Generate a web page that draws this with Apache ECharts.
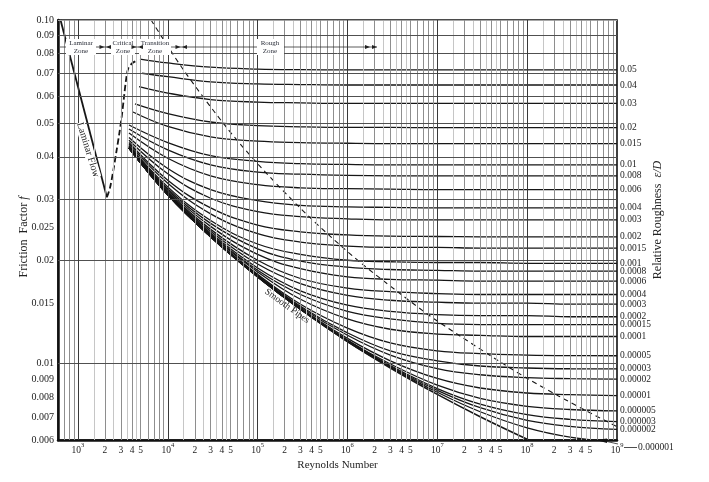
<!DOCTYPE html>
<html><head><meta charset="utf-8">
<script src="https://cdn.jsdelivr.net/npm/echarts@6/dist/echarts.min.js"></script>
<style>html,body{margin:0;padding:0;background:#fff}#c{width:709px;height:482px}</style>
</head><body><div id="c"></div>
<script>
// ---------------- data ----------------
const reynolds = [4000, 1e4, 3e4, 1e5, 3e5, 1e6, 3e6, 1e7, 3e7, 1e8, 3e8, 1e9];
const roughnessLabels = ['0.05','0.04','0.03','0.02','0.015','0.01','0.008','0.006','0.004','0.003',
  '0.002','0.0015','0.001','0.0008','0.0006','0.0004','0.0003','0.0002','0.00015','0.0001',
  '0.00005','0.00003','0.00002','0.00001','0.000005','0.000003','0.000002','0.000001'];
const curveStartRe = [4900,5170,4786,4315,4100,3700,3700,3700,3700,3700,3700,3700,3700,3700,
  3700,3700,3700,3700,3700,3700,3700,3700,3700,3700,3700,3700,3700,3700];
const friction = [
  [0.077, 0.0750, 0.0729, 0.0720, 0.0717, 0.0716, 0.0716, 0.0716, 0.0716, 0.0716, 0.0716, 0.0716],
  [0.070, 0.0684, 0.0661, 0.0652, 0.0649, 0.0647, 0.0647, 0.0647, 0.0647, 0.0647, 0.0647, 0.0647],
  [0.064, 0.0613, 0.0587, 0.0577, 0.0574, 0.0572, 0.0572, 0.0572, 0.0572, 0.0572, 0.0572, 0.0572],
  [0.057, 0.0534, 0.0505, 0.0493, 0.0489, 0.0487, 0.0487, 0.0486, 0.0486, 0.0486, 0.0486, 0.0486],
  [0.054, 0.0490, 0.0457, 0.0444, 0.0440, 0.0438, 0.0437, 0.0437, 0.0437, 0.0437, 0.0437, 0.0437],
  [0.0495, 0.0440, 0.0403, 0.0388, 0.0382, 0.0380, 0.0379, 0.0379, 0.0379, 0.0379, 0.0379, 0.0379],
  [0.0482, 0.0419, 0.0379, 0.0361, 0.0356, 0.0353, 0.0352, 0.0352, 0.0352, 0.0352, 0.0352, 0.0352],
  [0.0469, 0.0396, 0.0352, 0.0332, 0.0325, 0.0323, 0.0322, 0.0321, 0.0321, 0.0321, 0.0321, 0.0321],
  [0.0455, 0.0370, 0.0321, 0.0298, 0.0289, 0.0286, 0.0285, 0.0284, 0.0284, 0.0284, 0.0284, 0.0284],
  [0.0447, 0.0357, 0.0303, 0.0277, 0.0268, 0.0264, 0.0262, 0.0262, 0.0262, 0.0262, 0.0262, 0.0262],
  [0.0440, 0.0342, 0.0284, 0.0253, 0.0242, 0.0237, 0.0235, 0.02345, 0.0234, 0.0234, 0.0234, 0.0234],
  [0.0436, 0.0335, 0.0273, 0.0239, 0.0226, 0.0220, 0.0218, 0.0218, 0.0217, 0.0217, 0.0217, 0.0217],
  [0.0432, 0.0327, 0.0261, 0.0223, 0.0208, 0.0200, 0.0198, 0.0197, 0.0197, 0.0196, 0.0196, 0.0196],
  [0.0430, 0.0323, 0.0256, 0.0216, 0.0199, 0.0191, 0.0188, 0.0187, 0.0186, 0.0186, 0.0186, 0.0186],
  [0.0428, 0.0320, 0.0251, 0.0208, 0.0189, 0.0179, 0.0176, 0.0175, 0.0174, 0.0174, 0.0174, 0.0174],
  [0.0427, 0.0317, 0.0246, 0.0200, 0.0177, 0.0166, 0.0162, 0.0160, 0.0159, 0.0159, 0.0159, 0.0159],
  [0.0426, 0.0315, 0.0243, 0.0195, 0.0171, 0.0158, 0.0153, 0.0151, 0.0150, 0.0150, 0.0149, 0.0149],
  [0.0425, 0.0313, 0.0240, 0.0190, 0.0163, 0.0148, 0.0142, 0.0139, 0.0138, 0.0138, 0.0137, 0.0137],
  [0.0425, 0.0312, 0.0238, 0.0187, 0.0159, 0.0142, 0.0135, 0.0131, 0.0130, 0.0130, 0.0130, 0.0130],
  [0.0425, 0.0312, 0.0237, 0.0185, 0.0154, 0.0135, 0.0126, 0.0122, 0.0121, 0.0120, 0.0120, 0.0120],
  [0.0424, 0.0311, 0.0235, 0.0182, 0.0149, 0.0127, 0.0115, 0.0109, 0.0107, 0.0106, 0.01056, 0.01055],
  [0.0424, 0.0310, 0.0235, 0.0181, 0.0147, 0.0123, 0.0109, 0.0102, 0.00985, 0.00972, 0.00967, 0.00966],
  [0.0424, 0.0310, 0.0234, 0.0180, 0.0146, 0.0121, 0.0106, 0.00968, 0.00929, 0.00911, 0.00905, 0.00902],
  [0.0424, 0.0310, 0.0234, 0.0179, 0.0145, 0.01185, 0.0102, 0.00906, 0.00850, 0.00822, 0.00813, 0.00808],
  [0.0424, 0.0310, 0.0234, 0.0179, 0.0144, 0.0117, 0.00998, 0.00866, 0.00793, 0.00752, 0.00736, 0.00729],
  [0.0424, 0.0310, 0.0234, 0.0179, 0.0144, 0.0117, 0.00988, 0.00847, 0.00763, 0.00711, 0.00689, 0.00679],
  [0.0424, 0.0310, 0.0234, 0.0179, 0.0144, 0.0117, 0.00983, 0.00837, 0.00745, 0.00684, 0.00657, 0.00644],
  [0.0424, 0.0310, 0.0234, 0.0179, 0.0144, 0.0116, 0.00978, 0.00826, 0.00725, 0.00651, 0.00612, 0.00592]
];
const smoothPipeRe = [3700, 1e4, 3e4, 1e5, 3e5, 1e6, 3e6, 1e7, 3e7, 1e8, 3e8, 1e9];
const smoothPipeF = [0.0424, 0.0310, 0.0234, 0.0179, 0.0144, 0.0116, 0.00972, 0.00814, 0.00701, 0.00603, 0.00530, 0.00464];
const laminarRe = [640, 2100];
const laminarF = [0.1, 0.0305];
const criticalRe = [2100, 2275, 2480, 2700, 2890, 3070, 3260, 3430, 3640, 4080, 4600];
const criticalF = [0.0305, 0.0325, 0.0366, 0.0419, 0.0468, 0.0523, 0.0598, 0.0669, 0.0724, 0.0751, 0.0762];
const roughBoundaryRe = [6520, 14950, 45350, 102700, 296600, 653500, 1.427e6, 3.97e6, 8.53e6, 1.83e7, 4.97e7, 1.05e8, 2.23e8, 4.7e8, 9.9e8];
const roughBoundaryF = [0.1, 0.0716, 0.0486, 0.0379, 0.0284, 0.0234, 0.0196, 0.0159, 0.0137, 0.0120, 0.01014, 0.0090, 0.00806, 0.00726, 0.00657];
const xTickLabels = [1e3,2e3,3e3,4e3,5e3,1e4,2e4,3e4,4e4,5e4,1e5,2e5,3e5,4e5,5e5,1e6,2e6,3e6,4e6,5e6,
  1e7,2e7,3e7,4e7,5e7,1e8,2e8,3e8,4e8,5e8,1e9];
const yTickLabels = [0.006,0.007,0.008,0.009,0.01,0.015,0.02,0.025,0.03,0.04,0.05,0.06,0.07,0.08,0.09,0.1];
const yMinorGrid = [0.0065,0.0075,0.0085,0.0095,0.011,0.012,0.013,0.014,0.016,0.017,0.018,0.019,
  0.0225,0.0275,0.0325,0.035,0.0375,0.045,0.055,0.065,0.075,0.085,0.095];

// ---------------- chart ----------------
const SERIF = '"Liberation Serif","DejaVu Serif",serif';
const INK = '#161616';
const chart = echarts.init(document.getElementById('c'));

const gridMarks = [];
const vLight = [], vMed = [], vDark = [];
for (let n = 2; n <= 8; n++) {
  const d = Math.pow(10, n);
  [1.5, 2.5, 3.5, 4.5].forEach(k => { const v = k * d; if (v > 600 && v < 1e9) vLight.push(v); });
  [2, 3, 4, 5, 6, 7, 8, 9].forEach(k => { const v = k * d; if (v > 600 && v < 1e9) vMed.push(v); });
  if (n >= 3) vDark.push(d);
}
vLight.forEach(v => gridMarks.push({xAxis: v, lineStyle: {color: '#c6c6c6', width: 1, type: 'solid'}}));
yMinorGrid.forEach(v => gridMarks.push({yAxis: v, lineStyle: {color: '#a8a8a8', width: 1, type: 'solid'}}));
vMed.forEach(v => gridMarks.push({xAxis: v, lineStyle: {color: '#8e8e8e', width: 1, type: 'solid'}}));
yTickLabels.slice(1, -1).forEach(v => gridMarks.push({yAxis: v, lineStyle: {color: '#505050', width: 1, type: 'solid'}}));
vDark.forEach(v => gridMarks.push({xAxis: v, lineStyle: {color: '#3a3a3a', width: 1, type: 'solid'}}));

const series = [];
series.push({
  type: 'line', data: [[1e4, 0.05]], symbol: 'none', lineStyle: {opacity: 0}, silent: true, z: 1,
  markLine: {symbol: ['none', 'none'], silent: true, animation: false, label: {show: false},
    emphasis: {disabled: true}, data: gridMarks}
});
roughnessLabels.forEach((lab, i) => {
  series.push({
    type: 'line', name: lab, z: 3, symbol: 'none', smooth: 0.4, silent: true,
    data: friction[i].map((f, j) => [j === 0 ? curveStartRe[i] : reynolds[j], f]),
    lineStyle: {color: INK, width: 1.3},
    endLabel: {show: i < roughnessLabels.length - 1, formatter: lab, distance: 3,
      fontSize: 9.5, fontFamily: SERIF, color: '#222'}
  });
});
series.push({
  type: 'line', name: 'Smooth Pipes', z: 3, symbol: 'none', smooth: 0.4, silent: true,
  data: smoothPipeF.map((f, j) => [smoothPipeRe[j], f]), lineStyle: {color: INK, width: 1.5}
});
series.push({
  type: 'line', name: 'Laminar', z: 3, symbol: 'none', silent: true,
  data: laminarF.map((f, j) => [laminarRe[j], f]), lineStyle: {color: INK, width: 1.8}
});
series.push({
  type: 'line', name: 'Critical', z: 3, symbol: 'none', smooth: 0.3, silent: true,
  data: criticalF.map((f, j) => [criticalRe[j], f]), lineStyle: {color: INK, width: 1.8, type: [6, 3]}
});
series.push({
  type: 'line', name: 'RoughBoundary', z: 3, symbol: 'none', smooth: 0.3, silent: true,
  data: roughBoundaryF.map((f, j) => [roughBoundaryRe[j], f]), lineStyle: {color: INK, width: 1.1, type: [5, 4]}
});

function fmtX(v) {
  const e = Math.round(Math.log10(v) * 1000) / 1000;
  if (Number.isInteger(e)) return '{n|10}{s|' + e + '}';
  return '{n|' + Math.round(v / Math.pow(10, Math.floor(e))) + '}';
}
function fmtY(v) {
  const s = String(+v.toPrecision(3));
  return s === '0.1' ? '0.10' : s;
}

// annotations
const g = [];
const txt = (x, y, t, size, extra) => Object.assign({type: 'text', x: x, y: y, z: 20,
  style: {text: t, fontSize: size, fontFamily: SERIF, fill: '#2b2f3a', align: 'center', verticalAlign: 'middle'}}, extra || {});
const tri = (xTip, y, dir) => ({type: 'polygon', z: 21, shape: {points: [[xTip, y], [xTip - dir * 5, y - 2], [xTip - dir * 5, y + 2]]}, style: {fill: '#222'}});
g.push({type: 'line', z: 19, shape: {x1: 60, y1: 47, x2: 377, y2: 47}, style: {stroke: '#333', lineWidth: 0.8}});
[[81, 66, 30, 'Laminar'], [123, 111, 24, 'Critical'], [155, 139, 32, 'Transition'], [270, 257, 27, 'Rough']].forEach(b => {
  g.push({type: 'rect', z: 19, shape: {x: b[1], y: 39, width: b[2], height: 16}, style: {fill: '#fff'}});
  g.push(txt(b[0], 43.5, b[3], 7));
  g.push(txt(b[0], 51, 'Zone', 7));
});
g.push(tri(104.5, 47, 1), tri(106, 47, -1), tri(136.5, 47, 1), tri(138, 47, -1),
       tri(180.5, 47, 1), tri(182, 47, -1), tri(370, 47, 1), tri(377, 47, 1));
g.push(txt(24, 237, '', 12, {rotation: Math.PI / 2,
  style: {text: 'Friction  Factor {i|f}', fontSize: 12, fontFamily: SERIF, fill: '#222', align: 'center', verticalAlign: 'middle',
    rich: {i: {fontStyle: 'italic', fontSize: 12, fontFamily: SERIF, fill: '#222'}}}}));
g.push(txt(658, 220, '', 12, {rotation: Math.PI / 2,
  style: {text: 'Relative Roughness  {i|ε/D}', fontSize: 12, fontFamily: SERIF, fill: '#222', align: 'center', verticalAlign: 'middle',
    rich: {i: {fontStyle: 'italic', fontSize: 12, fontFamily: SERIF, fill: '#222'}}}}));
g.push(txt(88, 150, '', 10, {rotation: -1.27,
  style: {text: 'Laminar Flow', fontSize: 10, fontFamily: SERIF, fill: '#222', align: 'center', verticalAlign: 'middle',
    backgroundColor: '#fff'}}));
g.push(txt(287, 306, '', 9, {rotation: -0.62,
  style: {text: 'Smooth Pipes', fontSize: 9.5, fontFamily: SERIF, fill: '#222', align: 'center', verticalAlign: 'middle'}}));
g.push({type: 'polyline', z: 21, shape: {points: [[637, 447.5], [624, 447.5]]}, style: {stroke: '#222', lineWidth: 0.8, fill: null}});
g.push({type: 'polyline', z: 21, shape: {points: [[607, 441.5], [618, 444]]}, style: {stroke: '#222', lineWidth: 0.8, fill: null}});
g.push({type: 'polygon', z: 21, shape: {points: [[596, 440], [607, 438.5], [607, 443]]}, style: {fill: '#111'}});
g.push({type: 'text', z: 21, x: 638, y: 447.5, style: {text: roughnessLabels[roughnessLabels.length - 1], fontSize: 9.5,
  fontFamily: SERIF, fill: '#222', align: 'left', verticalAlign: 'middle'}});

chart.setOption({
  animation: false,
  backgroundColor: '#fff',
  textStyle: {fontFamily: SERIF},
  grid: {left: 58, right: 92, top: 20, bottom: 42, show: true, borderColor: '#111', borderWidth: 1.6},
  xAxis: {
    type: 'log', logBase: 10, min: 600, max: 1e9,
    axisLine: {show: true, onZero: false, lineStyle: {color: '#111', width: 2.5}},
    axisTick: {show: false}, splitLine: {show: false}, minorTick: {show: false},
    axisLabel: {customValues: xTickLabels, formatter: fmtX, margin: 2, hideOverlap: false,
      showMinLabel: true, showMaxLabel: true, color: '#222',
      rich: {n: {fontSize: 9.5, fontFamily: SERIF, color: '#222', lineHeight: 16},
             s: {fontSize: 6.5, fontFamily: SERIF, color: '#222', lineHeight: 8, verticalAlign: 'top'}}},
    name: 'Reynolds Number', nameLocation: 'middle', nameGap: 19,
    nameTextStyle: {fontFamily: SERIF, fontSize: 11, color: '#222'}
  },
  yAxis: {
    type: 'log', logBase: 10, min: 0.006, max: 0.1,
    axisLine: {show: true, onZero: false, lineStyle: {color: '#111', width: 2.5}},
    axisTick: {show: false}, splitLine: {show: false}, minorTick: {show: false},
    axisLabel: {customValues: yTickLabels, formatter: fmtY, margin: 4, hideOverlap: false,
      showMinLabel: true, showMaxLabel: true, fontSize: 10, fontFamily: SERIF, color: '#222'}
  },
  graphic: g,
  series: series
});
</script></body></html>
